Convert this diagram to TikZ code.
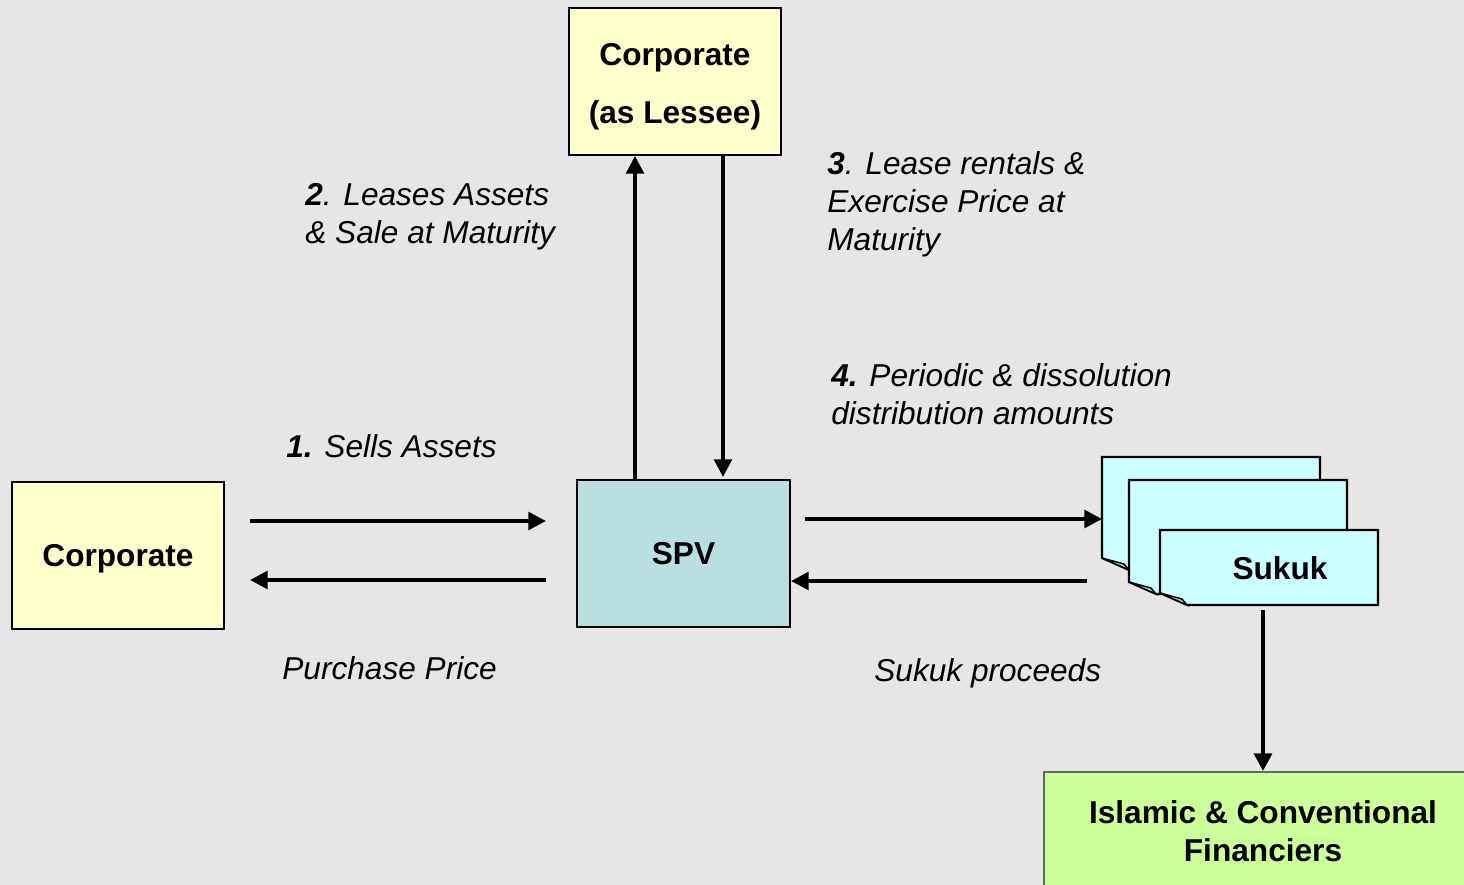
\documentclass[tikz,border=0pt]{standalone}
\usepackage{fontspec}
\setmainfont{Liberation Sans}
\usetikzlibrary{arrows.meta}
\usetikzlibrary{positioning}
\definecolor{bggrey}{HTML}{E6E6E6}
\definecolor{corpyellow}{HTML}{FFFFCC}
\definecolor{spvteal}{HTML}{B9DFE1}
\definecolor{sukukcyan}{HTML}{CCFFFF}
\definecolor{flapteal}{HTML}{A6CDCD}
\definecolor{fingreen}{HTML}{CCFF99}
% one sukuk sheet: left x, top y, bottom y
\newcommand{\sukukpage}[3]{%
  \filldraw[fill=sukukcyan, line width=1.2pt] (#1,#2) -- (#1+218,#2) -- (#1+218,#3) -- (#1+27,#3) -- (#1,#3-12) -- cycle;
  \filldraw[fill=flapteal, line width=0.8pt] (#1,#3-12) -- (#1+27,#3) -- (#1+22,#3-6) -- cycle;}

\begin{document}
\begin{tikzpicture}[x=0.02cm, y=-0.02cm,
    box/.style={draw, line width=1.2pt, minimum width=4.24cm, minimum height=2.94cm, align=center, font=\fontsize{18}{21.5}\selectfont\bfseries},
    lbl/.style={anchor=base west, align=left, inner sep=0pt, font=\fontsize{18}{21.5}\selectfont\itshape},
    flow/.style={line width=2.1pt, -{Triangle[length=10pt,width=10pt]}}]
  \useasboundingbox (0,0) rectangle (1464,885);
  \fill[bggrey] (0,0) rectangle (1464,885);
  \clip (0,0) rectangle (1464,885);

  \node[box, fill=corpyellow, text depth=0pt] (corp) at (118,555.5) {Corporate};
  \node[box, fill=corpyellow] (lessee) at (675,81.5) {\rule{0pt}{0.66cm}Corporate\\[0.4cm](as Lessee)};
  \node[box, fill=spvteal, minimum width=4.26cm] (spv) at (683.5,553.5) {SPV};

  %stack of sukuk sheets
  \sukukpage{1102}{457}{570}
  \sukukpage{1129}{480}{594}
  \sukukpage{1160}{530}{605}
  \node[font=\fontsize{18}{21.5}\selectfont\bfseries] (sukuk) at (1280,568) {Sukuk};
  \coordinate (stackwest) at (1102,550);
  \coordinate (stacksouth) at (1263,610);

  \node[draw=black!60, line width=1.2pt, fill=fingreen, minimum width=8.76cm, minimum height=3cm, anchor=north] (fin) at (1263,771) {};
  \node[align=center, font=\fontsize{18}{21.5}\selectfont\bfseries] (finlabel) at (1263,831) {Islamic \& Conventional\\Financiers};

  \draw[flow, shorten <=0.5cm, shorten >=0.6cm] ([yshift=0.69cm]corp.east) -- ([yshift=0.69cm]corp.east -| spv.west);
  \draw[flow, shorten <=0.6cm, shorten >=0.5cm] ([yshift=-0.49cm]corp.east -| spv.west) -- ([yshift=-0.49cm]corp.east);
  \draw[flow] ([xshift=-0.97cm]spv.north) -- ([xshift=-0.97cm]spv.north |- lessee.south);
  \draw[flow, shorten >=0.04cm] ([xshift=0.79cm]spv.north |- lessee.south) -- ([xshift=0.79cm]spv.north);
  \draw[flow, shorten <=0.28cm] ([yshift=0.69cm]spv.east) -- ([yshift=0.69cm]spv.east -| stackwest);
  \draw[flow, shorten <=0.3cm] ([yshift=-0.55cm]spv.east -| stackwest) -- ([yshift=-0.55cm]spv.east);
  \draw[flow, line width=2.8pt] (stacksouth) -- (fin.north);

  \node[lbl] (lbltwo) at (305,243.7) {\textbf{2}. Leases Assets\\\& Sale at Maturity};
  \node[lbl] (lblthree) at (827,250.4) {\textbf{3}. Lease rentals \&\\Exercise Price at\\Maturity};
  \node[lbl] (lblfour) at (831,424.7) {\textbf{4.} Periodic \& dissolution\\distribution amounts};
  \node[lbl] (lblone) at (286,457.4) {\textbf{1.} Sells Assets};
  \node[lbl] (lblpurchase) at (282,679.4) {Purchase Price};
  \node[lbl] (lblproceeds) at (874,681.4) {Sukuk proceeds};
\end{tikzpicture}
\end{document}
